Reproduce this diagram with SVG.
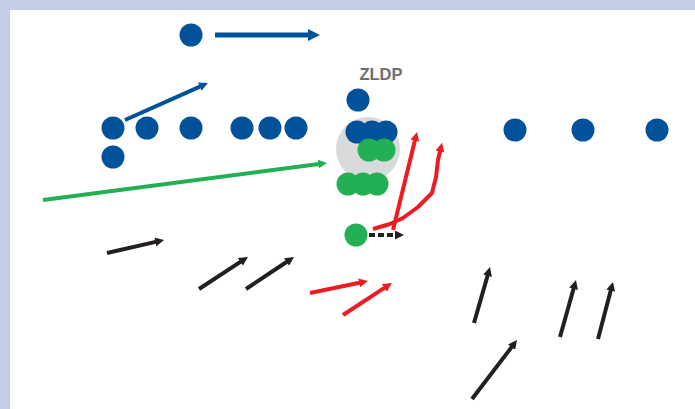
<svg xmlns="http://www.w3.org/2000/svg" width="695" height="409" viewBox="0 0 695 409">
  <style>
    .blue { fill: #01529b; }
    .green { fill: #23b055; }
    .halo { fill: #d9dadc; }
    .ln { fill: none; stroke-linecap: butt; stroke-linejoin: round; }
    .lb { stroke: #01529b; }
    .lg { stroke: #23b055; stroke-width: 4; }
    .lr { stroke: #ed1c24; stroke-width: 4; }
    .lk { stroke: #231f20; stroke-width: 4; }
    .label { font-family: "Liberation Sans", Arial, sans-serif; font-weight: bold; font-size: 16.5px; fill: #6d6e71; text-anchor: middle; }
  </style>
  <defs>
    <marker id="hBlueL" viewBox="0 0 10 10" markerUnits="userSpaceOnUse" markerWidth="12" markerHeight="12" refX="3" refY="5" orient="auto"><path d="M0,0 L10,5 L0,10 z" fill="#01529b"/></marker>
    <marker id="hBlue" viewBox="0 0 10 10" markerUnits="userSpaceOnUse" markerWidth="9" markerHeight="9" refX="3" refY="5" orient="auto"><path d="M0,0 L10,5 L0,10 z" fill="#01529b"/></marker>
    <marker id="hGreen" viewBox="0 0 10 10" markerUnits="userSpaceOnUse" markerWidth="9" markerHeight="9" refX="3" refY="5" orient="auto"><path d="M0,0 L10,5 L0,10 z" fill="#23b055"/></marker>
    <marker id="hRed" viewBox="0 0 10 10" markerUnits="userSpaceOnUse" markerWidth="9" markerHeight="9" refX="3" refY="5" orient="auto"><path d="M0,0 L10,5 L0,10 z" fill="#ed1c24"/></marker>
    <marker id="hBlack" viewBox="0 0 10 10" markerUnits="userSpaceOnUse" markerWidth="9" markerHeight="9" refX="3" refY="5" orient="auto"><path d="M0,0 L10,5 L0,10 z" fill="#231f20"/></marker>
  </defs>

  <!-- frame -->
  <rect x="0" y="0" width="695" height="409" fill="#c5cce6"/>
  <rect x="10" y="10" width="685" height="399" fill="#ffffff"/>

  <!-- ZLDP complex -->
  <g id="zldp">
    <text class="label" x="381" y="80">ZLDP</text>
    <circle class="halo" cx="368" cy="149" r="32"/>
    <circle class="blue" cx="358" cy="100" r="11.5"/>
    <circle class="blue" cx="357" cy="132" r="11.5"/>
    <circle class="blue" cx="372" cy="132" r="11.5"/>
    <circle class="blue" cx="386" cy="132" r="11.5"/>
    <circle class="green" cx="369" cy="150" r="11.5"/>
    <circle class="green" cx="384" cy="150" r="11.5"/>
  </g>
  <g id="green-row">
    <circle class="green" cx="348" cy="184" r="11.5"/>
    <circle class="green" cx="363" cy="184" r="11.5"/>
    <circle class="green" cx="377" cy="184" r="11.5"/>
  </g>
  <g id="green-single"><circle class="green" cx="356" cy="235" r="11.5"/></g>

  <g id="blue-top"><circle class="blue" cx="191" cy="35" r="11.5"/></g>
  <g id="blue-left">
    <circle class="blue" cx="113" cy="128" r="11.5"/>
    <circle class="blue" cx="147" cy="128" r="11.5"/>
    <circle class="blue" cx="113" cy="157" r="11.5"/>
  </g>
  <g id="blue-mid"><circle class="blue" cx="191" cy="128" r="11.5"/></g>
  <g id="blue-trio">
    <circle class="blue" cx="242" cy="128" r="11.5"/>
    <circle class="blue" cx="270" cy="128" r="11.5"/>
    <circle class="blue" cx="296" cy="128" r="11.5"/>
  </g>
  <g id="blue-right">
    <circle class="blue" cx="515" cy="130" r="11.5"/>
    <circle class="blue" cx="583" cy="130" r="11.5"/>
    <circle class="blue" cx="657" cy="130" r="11.5"/>
  </g>

  <!-- connectors -->
  <g id="connectors" class="ln">
    <line class="ln lb" stroke-width="5" x1="215" y1="35" x2="311.6" y2="35" marker-end="url(#hBlueL)"/>
    <line class="ln lb" stroke-width="4" x1="125" y1="120" x2="202.2" y2="85.6" marker-end="url(#hBlue)"/>
    <line class="ln lg" x1="43" y1="200" x2="320.8" y2="163.8" marker-end="url(#hGreen)"/>

    <line class="ln lk" x1="107" y1="253" x2="157.9" y2="241.4" marker-end="url(#hBlack)"/>
    <line class="ln lk" x1="199" y1="289" x2="242.7" y2="260.4" marker-end="url(#hBlack)"/>
    <line class="ln lk" x1="246" y1="289" x2="288.8" y2="260.5" marker-end="url(#hBlack)"/>
    <line class="ln lk" x1="369" y1="235" x2="397.7" y2="235" stroke-dasharray="6 3" marker-end="url(#hBlack)"/>

    <line class="ln lr" x1="310" y1="293" x2="361.8" y2="282.3" marker-end="url(#hRed)"/>
    <line class="ln lr" x1="343" y1="315" x2="386.7" y2="286.4" marker-end="url(#hRed)"/>
    <line class="ln lr" x1="393" y1="230" x2="415.5" y2="138.1" marker-end="url(#hRed)"/>
    <polyline class="ln lr" points="373,229 390,224 403,218 418,207 432,193 436,177 438,160 440.6,149" marker-end="url(#hRed)"/>

    <line class="ln lk" x1="474" y1="323" x2="488.3" y2="273.1" marker-end="url(#hBlack)"/>
    <line class="ln lk" x1="560" y1="337" x2="574.3" y2="286.1" marker-end="url(#hBlack)"/>
    <line class="ln lk" x1="598" y1="339" x2="611.4" y2="288.1" marker-end="url(#hBlack)"/>
    <line class="ln lk" x1="472" y1="399" x2="513.2" y2="345" marker-end="url(#hBlack)"/>
  </g>
</svg>
